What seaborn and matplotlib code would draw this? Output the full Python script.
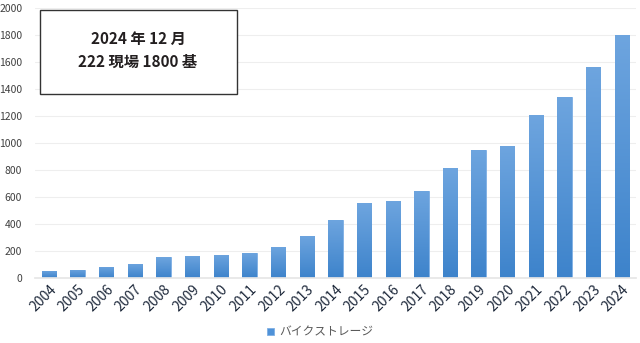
import numpy as np
import pandas as pd
import matplotlib
matplotlib.use("Agg")
import matplotlib.pyplot as plt
import matplotlib.colors as mcolors
import seaborn as sns
from matplotlib.patches import Rectangle

years = [str(y) for y in range(2004, 2025)]
counts = [52, 62, 82, 105, 155, 163, 175, 190, 235, 312, 432, 555, 572, 645,
          820, 950, 980, 1210, 1345, 1565, 1800]
series_label = "バイクストレージ"
box_lines = ["2024 年 12 月", "222 現場 1800 基"]
y_ticks = list(range(0, 2001, 200))

sns.set_theme(style="white")
plt.rcParams['font.family'] = ['Noto Sans CJK JP', 'DejaVu Sans']

df = pd.DataFrame({"year": years, "count": counts})

fig = plt.figure(figsize=(6.4, 3.43), dpi=100)
ax = fig.add_axes([0.0542, 0.1886, 0.9398, 0.7872])

sns.barplot(data=df, x="year", y="count", color="#4f92d8", width=0.5,
            saturation=1, ax=ax, label=series_label, edgecolor="#7fb0e4",
            linewidth=0.6)

# gradient fill on bars
cmap = mcolors.LinearSegmentedColormap.from_list("g", ["#3d83cb", "#6ea5df"])
grad = np.linspace(0, 1, 256).reshape(-1, 1)
for p in ax.patches:
    x0, y0 = p.get_x(), p.get_y()
    w, h = p.get_width(), p.get_height()
    im = ax.imshow(grad, cmap=cmap, origin="lower", aspect="auto",
                   extent=[x0, x0 + w, y0, y0 + h], zorder=p.get_zorder() + 0.1)
    im.set_clip_path(p)

ax.set_xlim(-0.5, len(years) - 0.5)
ax.set_ylim(0, 2000)
ax.set_yticks(y_ticks)
ax.yaxis.grid(True, color="#eeeeee", linewidth=0.8)
ax.set_axisbelow(True)
for s in ax.spines.values():
    s.set_visible(False)
ax.spines["bottom"].set_visible(True)
ax.spines["bottom"].set_color("#e6e6e6")
ax.set_xlabel("")
ax.set_ylabel("")
ax.tick_params(axis="y", length=0, pad=9, labelsize=7.5, labelcolor="#404040")
ax.tick_params(axis="x", length=0, pad=3, labelsize=10, labelcolor="#1f2a3c")
for lab in ax.get_xticklabels():
    lab.set_rotation(45)
    lab.set_ha("right")
    lab.set_rotation_mode("anchor")

# legend
leg = ax.legend(loc="center", bbox_to_anchor=(0.5, 0.032),
                bbox_transform=fig.transFigure, frameon=False,
                handlelength=0.6, handleheight=0.6, handletextpad=0.4,
                fontsize=8.5)
for t in leg.get_texts():
    t.set_color("#595959")

# annotation box
box = Rectangle((40 / 640, 1 - 94 / 343), (237 - 40) / 640, (94 - 10) / 343,
                transform=fig.transFigure, facecolor="white",
                edgecolor="#333333", linewidth=1.0, zorder=5)
fig.add_artist(box)
fig.text(138 / 640, 1 - 39 / 343, box_lines[0], ha="center", va="center",
         fontsize=11, fontweight="bold", color="#231f20", zorder=6)
fig.text(138 / 640, 1 - 62 / 343, box_lines[1], ha="center", va="center",
         fontsize=11, fontweight="bold", color="#231f20", zorder=6)

fig.savefig("out.png", dpi=100)
